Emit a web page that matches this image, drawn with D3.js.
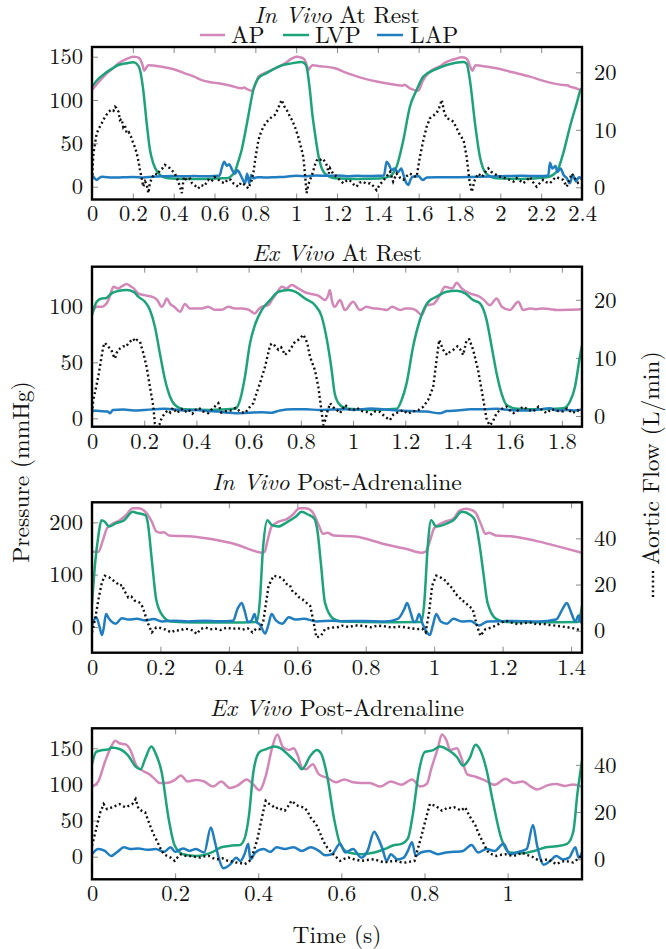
<!DOCTYPE html>
<html><head><meta charset="utf-8">
<script src="https://cdn.jsdelivr.net/npm/d3@7"></script>
<style>
body{margin:0;background:#fff}
svg{display:block}
</style></head>
<body><svg id="chart" width="666" height="949"></svg>
<script>
// ---------- DATA ([time s, value]) ----------
const p1AP=[[0,111.6],[0.03,120],[0.064,128.9],[0.1,136],[0.129,142.3],[0.17,147.5],[0.202,150],[0.22,149.5],[0.235,147.3],[0.248,140],[0.256,133.8],[0.266,137.5],[0.276,140],[0.30,139.8],[0.341,138.5],[0.4,135.5],[0.455,130.8],[0.5,127],[0.537,123],[0.58,120.5],[0.619,119.3],[0.68,116.5],[0.733,113.5],[0.745,114.5],[0.76,112.5],[0.782,110.8],[0.80,118],[0.815,127],[0.85,131.5],[0.88,134.6],[0.945,142.3],[0.98,148],[1.003,150],[1.025,149],[1.04,147],[1.052,140],[1.06,134.6],[1.07,138],[1.08,140],[1.12,139],[1.19,136.6],[1.25,131],[1.329,125],[1.4,121],[1.492,117.3],[1.52,116.5],[1.53,117.5],[1.557,113.5],[1.598,110.8],[1.62,122],[1.655,132.7],[1.7,138.5],[1.737,144],[1.78,147.5],[1.81,149.3],[1.83,148.5],[1.84,146],[1.852,139],[1.864,133.8],[1.872,138],[1.88,140],[1.93,138.6],[1.982,136.6],[2.06,132],[2.145,127],[2.22,121.5],[2.308,117.3],[2.33,117],[2.34,115.5],[2.36,114.5],[2.39,111.6],[2.4,111]];
const p1LVP=[[0,115.4],[0.03,124],[0.064,130.8],[0.1,136.5],[0.129,140.4],[0.17,142.5],[0.202,143.5],[0.218,142],[0.235,134.6],[0.251,111.6],[0.268,73],[0.284,42.3],[0.300,27],[0.325,15.4],[0.35,11],[0.374,9.7],[0.45,9],[0.55,9],[0.62,9.5],[0.668,10],[0.685,13],[0.700,17.3],[0.715,28],[0.733,42.3],[0.75,62],[0.765,80.8],[0.790,111.6],[0.815,125],[0.85,130.5],[0.88,134.6],[0.93,140],[0.978,142.3],[1.026,144],[1.04,142.5],[1.051,138.5],[1.067,111.6],[1.08,82],[1.092,61.6],[1.11,34.6],[1.14,15.4],[1.19,9.7],[1.3,9],[1.41,9.5],[1.44,10.5],[1.468,13.5],[1.492,23.1],[1.525,53.9],[1.557,92.3],[1.59,111.6],[1.623,127],[1.68,135],[1.737,140.4],[1.819,144],[1.835,142],[1.851,123],[1.876,73],[1.9,34.6],[1.93,15.4],[1.98,9.7],[2.1,9],[2.227,10.8],[2.276,17.3],[2.308,38.5],[2.341,69.2],[2.374,96.2],[2.393,111.6],[2.4,114]];
const p1LAP=[[0,13.5],[0.012,10],[0.023,7.7],[0.035,10],[0.05,11.5],[0.1,10.5],[0.15,10.8],[0.2,11.2],[0.25,10.5],[0.3,11.5],[0.35,12],[0.4,12.3],[0.45,12],[0.5,12.3],[0.55,12],[0.6,12.3],[0.625,13],[0.635,21.2],[0.648,28.8],[0.66,24],[0.672,26],[0.685,20],[0.700,15],[0.712,19],[0.72,17],[0.735,10],[0.749,3.9],[0.76,15],[0.77,3.9],[0.78,13.5],[0.79,9.6],[0.81,11],[0.85,10.5],[0.9,11],[0.95,11.5],[1.0,12.5],[1.05,12],[1.1,13],[1.15,12.5],[1.2,13],[1.25,12],[1.3,12.5],[1.35,12.3],[1.4,12.5],[1.43,13],[1.443,28.8],[1.455,25],[1.468,19],[1.48,21],[1.5,17],[1.515,21],[1.525,14],[1.538,5],[1.549,2],[1.56,8],[1.57,11.5],[1.6,12],[1.62,7.7],[1.64,10.5],[1.7,10.8],[1.8,11],[1.9,11.5],[2.0,12],[2.1,12.5],[2.2,12.3],[2.235,13],[2.243,27.7],[2.255,21],[2.27,24],[2.28,17],[2.295,21],[2.31,13.5],[2.325,10],[2.34,3.9],[2.355,13.5],[2.37,6],[2.385,11],[2.4,9.6]];
const p1Flow=[[0,1.3],[0.007,5.9],[0.023,9.4],[0.035,10.3],[0.047,11.1],[0.06,12],[0.08,13.1],[0.095,13.5],[0.105,13.3],[0.113,14],[0.12,13.8],[0.13,13.1],[0.137,11.7],[0.145,11.9],[0.153,10.5],[0.16,10.9],[0.17,9.4],[0.18,9.6],[0.19,8.9],[0.202,7.7],[0.21,7],[0.219,5.9],[0.228,4.5],[0.235,3],[0.245,1.3],[0.251,0.1],[0.26,1],[0.268,0.5],[0.276,-1],[0.284,0.8],[0.296,1.8],[0.308,2.4],[0.32,2.2],[0.333,3],[0.345,3.3],[0.357,3.9],[0.37,3.6],[0.382,3.3],[0.395,2.8],[0.406,2.4],[0.418,1.4],[0.431,0.1],[0.44,-1],[0.45,1.8],[0.465,1.2],[0.48,1.5],[0.49,0.7],[0.505,0.3],[0.52,-0.2],[0.535,0.4],[0.55,0.2],[0.57,1.3],[0.585,1],[0.6,1.8],[0.61,1.5],[0.62,1.3],[0.635,0.9],[0.651,0.7],[0.665,1.4],[0.68,1.3],[0.695,0.6],[0.717,0.1],[0.73,0.8],[0.745,0.5],[0.755,0.2],[0.766,-0.2],[0.78,1],[0.79,2.4],[0.8,5],[0.815,8.2],[0.827,9.5],[0.839,10.5],[0.852,11.2],[0.864,11.7],[0.88,12.2],[0.896,12.6],[0.91,13.6],[0.92,14.5],[0.929,15.2],[0.94,14.2],[0.95,13.6],[0.96,13.1],[0.97,12.2],[0.98,11.7],[0.994,10.5],[1.01,8.8],[1.022,7.2],[1.035,5.3],[1.043,2.4],[1.051,-1],[1.06,0.5],[1.068,1.3],[1.08,2.4],[1.092,3.9],[1.1,4.6],[1.108,5],[1.12,4.8],[1.13,5],[1.14,4.5],[1.149,3.9],[1.16,2.4],[1.166,3.3],[1.18,2.4],[1.2,1.8],[1.215,1.2],[1.231,0.7],[1.245,1.1],[1.26,1.3],[1.278,0.6],[1.296,0.1],[1.31,0.8],[1.325,1],[1.345,0.6],[1.362,0.7],[1.378,0.2],[1.394,-0.5],[1.41,0.5],[1.43,1.3],[1.445,2],[1.46,2.7],[1.475,1],[1.492,2.4],[1.51,1.6],[1.525,1.3],[1.54,1.9],[1.557,2.4],[1.575,2],[1.59,1.8],[1.606,5.3],[1.623,8.2],[1.639,10.5],[1.655,12],[1.67,12.4],[1.688,12.9],[1.70,13.8],[1.713,15.2],[1.725,13.1],[1.737,12],[1.755,11.8],[1.77,11.4],[1.786,10.3],[1.802,9.1],[1.82,8.2],[1.835,5.3],[1.848,1.3],[1.86,-0.8],[1.875,1.3],[1.892,2.4],[1.91,1.8],[1.925,2.6],[1.941,3.3],[1.955,2.7],[1.97,2.4],[1.99,1.9],[2.01,1.8],[2.03,1.5],[2.047,1.3],[2.065,1.0],[2.08,1.6],[2.095,1.2],[2.112,0.7],[2.13,1.2],[2.145,1.8],[2.16,0.9],[2.178,0.1],[2.195,0.8],[2.21,1.3],[2.225,0.9],[2.243,0.7],[2.26,1.4],[2.275,1.8],[2.29,1.5],[2.308,1.3],[2.325,0.1],[2.335,1],[2.35,2.4],[2.365,1.6],[2.38,0.8],[2.4,1.3]];

const p2AP=[[0,93.7],[0.018,99.6],[0.038,99.6],[0.05,101],[0.063,105.6],[0.075,114],[0.082,117.5],[0.1,116],[0.115,118],[0.133,120],[0.147,118],[0.16,116],[0.177,111.6],[0.2,110],[0.229,108.6],[0.25,105.6],[0.267,99.6],[0.278,103],[0.286,107],[0.3,102],[0.315,99.6],[0.337,95.2],[0.356,102],[0.375,98],[0.394,98],[0.42,98],[0.445,99.6],[0.47,97],[0.497,97],[0.522,99.6],[0.548,98],[0.573,98],[0.6,97],[0.624,93.7],[0.64,98],[0.65,99.6],[0.675,101],[0.69,106],[0.707,111.6],[0.727,117.5],[0.745,116],[0.765,119],[0.79,116],[0.816,112.6],[0.84,111],[0.867,109.6],[0.892,105.6],[0.905,110],[0.911,114.6],[0.92,104],[0.93,99.6],[0.95,105.6],[0.969,96.7],[1.0,104],[1.026,96.7],[1.052,99.6],[1.07,98.5],[1.09,98],[1.11,97.5],[1.129,96.7],[1.15,99.6],[1.18,96.7],[1.2,98],[1.218,98],[1.24,96.7],[1.263,92.2],[1.282,101],[1.307,102],[1.333,110],[1.352,117.5],[1.38,116],[1.397,121],[1.416,116],[1.448,111.6],[1.485,108.6],[1.5,106],[1.524,101],[1.55,107],[1.57,99.6],[1.6,96.7],[1.633,104],[1.652,96.7],[1.677,98],[1.7,97.5],[1.728,98],[1.755,97.5],[1.78,96.7],[1.83,97],[1.877,97.5]];
const p2LVP=[[0,92.2],[0.018,104],[0.037,107],[0.055,107.5],[0.075,111.6],[0.1,113.7],[0.133,114.6],[0.16,113],[0.177,108.6],[0.203,104],[0.222,96.7],[0.241,81.8],[0.26,58],[0.28,34.2],[0.299,19.3],[0.318,11.9],[0.356,8],[0.45,7.5],[0.548,8.5],[0.567,16.3],[0.586,37.2],[0.605,66.7],[0.624,83.3],[0.65,96.7],[0.682,105.6],[0.714,113],[0.752,114.6],[0.78,113],[0.816,107],[0.854,101],[0.88,90.7],[0.9,69.9],[0.918,43.1],[0.93,22],[0.95,11.9],[0.98,8.5],[1.08,7.5],[1.167,8.5],[1.186,16.3],[1.205,31.2],[1.23,64],[1.256,87.8],[1.288,104],[1.32,108.6],[1.358,113],[1.397,114],[1.43,111.6],[1.46,105.6],[1.486,102.6],[1.51,89.3],[1.531,64],[1.55,40],[1.569,22],[1.588,11.9],[1.63,8.5],[1.72,8],[1.805,9],[1.831,15],[1.85,28],[1.869,55],[1.877,65]];
const p2LAP=[[0,7],[0.03,6.5],[0.06,6],[0.069,4.5],[0.08,7.5],[0.12,7.8],[0.16,7],[0.2,7.5],[0.24,8],[0.28,8.5],[0.32,7.8],[0.36,7],[0.4,7.5],[0.44,6.5],[0.484,6],[0.52,5],[0.55,4.5],[0.6,5],[0.65,5.5],[0.688,5],[0.72,7],[0.77,8],[0.82,8],[0.87,7.5],[0.92,7.8],[0.97,8],[1.0,7.5],[1.07,8.8],[1.12,7.8],[1.17,7],[1.22,6.5],[1.28,6],[1.333,4.5],[1.36,6.5],[1.4,7],[1.45,8],[1.5,8],[1.55,8.5],[1.6,7.5],[1.65,7],[1.7,7.5],[1.754,9],[1.78,7],[1.82,7.5],[1.85,7],[1.877,8]];
const p2Flow=[[0,0.5],[0.005,2.8],[0.015,4.8],[0.024,6.8],[0.034,9.5],[0.043,11.9],[0.05,12.6],[0.056,12.2],[0.065,11.8],[0.074,11.4],[0.082,10.4],[0.088,9.9],[0.094,10.8],[0.1,11.4],[0.11,11.7],[0.12,12],[0.13,11.9],[0.139,12.5],[0.148,12.9],[0.158,13.3],[0.165,12.8],[0.172,13.1],[0.184,12.8],[0.19,11.8],[0.197,10.8],[0.209,8.5],[0.222,5],[0.235,1.6],[0.241,-1.3],[0.25,-2],[0.258,-1.5],[0.267,-0.3],[0.28,0.5],[0.29,1],[0.3,0.6],[0.31,1.4],[0.325,0.5],[0.343,1.2],[0.355,0.7],[0.37,1.1],[0.385,0.4],[0.394,1],[0.41,1.4],[0.425,0.8],[0.445,0.5],[0.46,1.2],[0.47,1.6],[0.484,2.2],[0.495,0.6],[0.51,0.8],[0.535,1],[0.55,1.4],[0.57,0.7],[0.586,0.5],[0.595,1],[0.605,1.6],[0.618,2.2],[0.63,3.9],[0.643,5.6],[0.663,8.5],[0.675,10.8],[0.682,12.2],[0.69,12.5],[0.7,12.1],[0.714,11.4],[0.725,11.8],[0.732,11.2],[0.739,10.5],[0.75,11],[0.76,11.4],[0.77,12.3],[0.778,12.8],[0.79,13.1],[0.8,13.5],[0.809,14],[0.818,13.3],[0.825,12.5],[0.835,10.2],[0.854,7.9],[0.867,5],[0.877,1.6],[0.886,-1.6],[0.895,-0.5],[0.9,0.5],[0.912,2.2],[0.924,1.5],[0.935,1.2],[0.95,0.5],[0.97,1.9],[0.985,1.2],[1.0,1.0],[1.015,1.4],[1.03,0.9],[1.052,0.7],[1.07,0.3],[1.085,0.8],[1.103,0.7],[1.122,-0.1],[1.141,-0.7],[1.155,0.3],[1.17,0.6],[1.192,1],[1.21,0.4],[1.23,0.8],[1.25,1],[1.269,1.6],[1.288,2.8],[1.307,5],[1.32,9.7],[1.33,13.1],[1.345,11.4],[1.36,10.5],[1.37,11],[1.384,11.4],[1.4,12],[1.41,11.5],[1.422,10.5],[1.435,13.1],[1.445,13.2],[1.46,11.4],[1.479,7.9],[1.499,2.8],[1.512,-0.7],[1.524,-1.6],[1.535,-1],[1.55,0.5],[1.568,1.2],[1.588,1.6],[1.6,1],[1.615,0.5],[1.632,1],[1.652,1.6],[1.67,1.1],[1.69,0.8],[1.71,1.6],[1.725,1],[1.741,0.5],[1.76,1.2],[1.78,0.9],[1.805,0.8],[1.82,1.3],[1.84,0.5],[1.86,1],[1.877,0.5]];

const p3AP=[[0,144],[0.019,144],[0.031,164],[0.044,189],[0.0625,198],[0.081,204],[0.1,214],[0.119,227],[0.1375,227],[0.156,220],[0.175,201],[0.1875,183],[0.2,180],[0.21,181],[0.225,175],[0.294,173],[0.356,167],[0.419,158],[0.481,144],[0.496,142],[0.505,144],[0.5125,164],[0.525,192],[0.544,201],[0.569,206],[0.5875,215],[0.606,227],[0.625,227],[0.644,220],[0.6625,195],[0.675,178],[0.6875,180],[0.706,175],[0.769,173],[0.856,158],[0.919,149],[0.9625,142],[0.975,144],[0.9875,164],[1.0,189],[1.03,201],[1.056,207],[1.075,223],[1.094,226],[1.119,220],[1.1375,195],[1.15,178],[1.16,180],[1.18,175],[1.23,173],[1.294,165],[1.356,155],[1.432,142]];
const p3LVP=[[0,43],[0.009,121],[0.019,176],[0.0275,204],[0.0375,201],[0.05,192],[0.069,198],[0.094,204],[0.119,220],[0.131,218],[0.156,214],[0.1625,201],[0.175,127],[0.1875,53],[0.206,22],[0.231,10.5],[0.3,8.5],[0.4,8.5],[0.481,9.5],[0.49,46],[0.5,152],[0.5125,204],[0.525,195],[0.544,192],[0.569,200],[0.594,210],[0.6125,220],[0.631,215],[0.65,207],[0.659,183],[0.669,121],[0.681,46],[0.706,15.5],[0.731,10.5],[0.85,9],[0.9625,9.5],[0.971,46],[0.981,152],[0.991,204],[1.006,192],[1.031,196],[1.056,204],[1.081,220],[1.106,214],[1.119,204],[1.131,164],[1.144,102],[1.156,46],[1.181,15.5],[1.2125,9.3],[1.3,9],[1.42,9.5],[1.428,25],[1.432,40]];
const p3LAP=[[0,3],[0.0125,18.6],[0.021,3],[0.029,-15.5],[0.034,-3],[0.041,24.8],[0.05,15.5],[0.069,6.2],[0.0875,16.7],[0.106,14.2],[0.131,15.5],[0.156,12.4],[0.18,15],[0.206,10.5],[0.24,12],[0.281,10.5],[0.331,12],[0.37,11],[0.4125,12],[0.425,34],[0.4375,46],[0.446,31],[0.456,9.3],[0.466,12],[0.475,24.8],[0.482,9],[0.491,4.3],[0.496,-2],[0.506,-12.4],[0.515,3],[0.525,24.8],[0.5375,12.4],[0.556,6.2],[0.575,18.6],[0.594,14.2],[0.619,15.5],[0.656,10.5],[0.7,12],[0.731,11],[0.794,11.5],[0.856,10.5],[0.894,15.5],[0.9125,34],[0.921,46],[0.931,28],[0.941,9.3],[0.948,12],[0.956,24.8],[0.966,6.2],[0.975,-6.2],[0.9875,-15.5],[0.996,3],[1.006,24.8],[1.019,10.5],[1.0375,6.2],[1.056,15.5],[1.081,10.5],[1.106,11.5],[1.131,3],[1.156,10.5],[1.23,11.5],[1.306,10.5],[1.356,14.2],[1.375,34],[1.3875,46],[1.4,28],[1.4125,10.5],[1.422,21.7],[1.428,9],[1.432,15]];
const p3Flow=[[0,-0.7],[0.009,5],[0.019,13.7],[0.029,21],[0.0375,23.8],[0.05,23.1],[0.0625,21.7],[0.07,21],[0.081,19.5],[0.088,19.9],[0.094,17.3],[0.1,16],[0.106,14.4],[0.115,14.8],[0.125,13],[0.1375,12.3],[0.144,11.5],[0.15,9.4],[0.1625,3.6],[0.175,-0.7],[0.1875,1.4],[0.2,1.2],[0.215,0.5],[0.231,-0.7],[0.245,0.3],[0.256,0],[0.27,0.9],[0.281,0.7],[0.295,0.1],[0.306,-1.4],[0.318,0.8],[0.331,1.4],[0.345,0.6],[0.36,0.9],[0.375,0.3],[0.394,1.4],[0.41,0.8],[0.425,1.2],[0.44,0.5],[0.455,1.1],[0.469,-0.7],[0.48,0.9],[0.49,0.7],[0.5,3.6],[0.506,9.4],[0.516,19.5],[0.531,23.8],[0.54,23.5],[0.55,23.1],[0.56,22],[0.569,20.2],[0.578,19.8],[0.5875,16.6],[0.596,16],[0.606,14.4],[0.615,13.6],[0.625,12.3],[0.6375,10.8],[0.646,5],[0.656,-2.9],[0.669,-2.2],[0.681,0.7],[0.694,1.2],[0.706,1.4],[0.72,1.6],[0.731,2.2],[0.75,1.6],[0.77,2.3],[0.794,2.1],[0.815,1.5],[0.835,2.2],[0.856,1.9],[0.875,1.4],[0.9,1.8],[0.919,1.4],[0.935,1],[0.95,0.7],[0.965,0.9],[0.975,-0.7],[0.985,7.9],[0.994,19.5],[1.006,23.8],[1.015,23.5],[1.025,22.4],[1.035,21.5],[1.044,19.5],[1.053,18.5],[1.0625,15.9],[1.072,14.9],[1.081,13],[1.09,12.5],[1.1,10.8],[1.1125,9.4],[1.125,2.2],[1.135,-2.2],[1.15,0.7],[1.165,1.3],[1.18,2.2],[1.195,3.5],[1.21,4.3],[1.227,3.5],[1.244,2.9],[1.26,3.3],[1.281,3.6],[1.3,2.8],[1.319,3],[1.338,2.5],[1.356,2.2],[1.375,1.8],[1.394,1.4],[1.41,1],[1.432,0]];

const p4AP=[[0,97],[0.015,104],[0.031,131],[0.046,152],[0.056,160.6],[0.066,157],[0.082,155],[0.092,148],[0.107,126],[0.122,119],[0.138,114],[0.15,108],[0.163,102],[0.179,102],[0.199,106],[0.214,112.5],[0.23,104],[0.25,106],[0.27,104],[0.291,97],[0.311,104],[0.332,95],[0.352,99],[0.372,107],[0.388,100],[0.403,92],[0.418,111.5],[0.434,152],[0.446,169],[0.459,152],[0.474,147.6],[0.485,150],[0.495,140],[0.505,123.6],[0.515,121],[0.531,128],[0.546,114],[0.566,109],[0.587,103],[0.607,107],[0.628,103],[0.648,102],[0.668,102],[0.694,97],[0.719,104],[0.745,99.5],[0.77,107],[0.79,97],[0.806,101],[0.816,121],[0.832,150],[0.842,169],[0.852,162],[0.862,147.6],[0.878,150],[0.888,138],[0.903,114],[0.923,110.6],[0.944,106],[0.969,99.5],[0.995,107.7],[1.015,102],[1.036,104],[1.056,97],[1.071,93],[1.097,99],[1.117,100.5],[1.138,98],[1.158,100],[1.179,97]];
const p4LVP=[[0,128],[0.01,145],[0.026,147.6],[0.041,148.6],[0.046,151],[0.066,149],[0.087,140],[0.107,123.6],[0.117,121],[0.128,135.6],[0.143,152.4],[0.153,143],[0.168,116],[0.184,54],[0.199,15.4],[0.219,3.4],[0.25,1],[0.291,6.7],[0.311,13],[0.337,15.4],[0.355,16],[0.367,25],[0.378,58.6],[0.388,116],[0.403,145],[0.418,148.6],[0.439,152.4],[0.454,150],[0.474,140],[0.495,128],[0.505,121],[0.526,140],[0.541,147.6],[0.551,143],[0.566,111.5],[0.582,54],[0.597,17.8],[0.617,5.8],[0.648,3.4],[0.679,5.8],[0.704,10.6],[0.724,15.4],[0.745,17.8],[0.76,25],[0.772,58.6],[0.786,116],[0.801,145],[0.821,147.6],[0.837,152.4],[0.857,147.6],[0.878,138],[0.893,126],[0.908,135.6],[0.923,154.8],[0.934,147.6],[0.949,121],[0.964,78],[0.985,25],[1.005,5.8],[1.036,4.8],[1.066,8.2],[1.092,13],[1.117,14.4],[1.143,17.8],[1.158,34.6],[1.168,87.5],[1.179,133]];
const p4LAP=[[0,3.4],[0.015,10.6],[0.031,8],[0.046,1],[0.061,6.7],[0.077,13],[0.092,10.6],[0.112,11.5],[0.133,9.5],[0.153,10.6],[0.173,6.7],[0.189,13],[0.2,6.7],[0.219,11.5],[0.235,8],[0.25,10.6],[0.27,5.8],[0.286,40.4],[0.296,20],[0.306,-3.8],[0.316,-16],[0.332,-11],[0.347,-1.4],[0.357,-6],[0.367,3.4],[0.376,17.8],[0.381,-3.8],[0.393,5.8],[0.413,10.6],[0.429,6.7],[0.444,13],[0.464,10.6],[0.485,13],[0.505,8],[0.526,13],[0.546,8],[0.561,1.9],[0.577,3.4],[0.597,17.8],[0.609,5.8],[0.628,10.6],[0.648,-1.4],[0.663,8],[0.679,34.6],[0.689,25],[0.699,10.6],[0.709,-6],[0.719,3.4],[0.735,-3.8],[0.75,-1.4],[0.76,8],[0.77,20],[0.779,1],[0.791,5.8],[0.811,8],[0.832,3.4],[0.852,5.8],[0.872,6.7],[0.893,8],[0.913,16.3],[0.929,5.8],[0.949,10.6],[0.969,8],[0.99,17.8],[1.005,3.4],[1.026,6.7],[1.046,10.6],[1.061,44],[1.071,15.4],[1.087,-11],[1.102,-6],[1.117,1],[1.133,-3.8],[1.148,-1.4],[1.163,13],[1.171,-1.4],[1.179,5.8]];
const p4Flow=[[0,5.7],[0.01,12.8],[0.02,19.9],[0.028,23.4],[0.036,21.3],[0.044,21.8],[0.051,22],[0.058,22.8],[0.066,23.4],[0.074,22.5],[0.082,22],[0.09,22.8],[0.097,23.4],[0.105,25.5],[0.112,21.3],[0.12,20.5],[0.128,19.9],[0.135,16.5],[0.143,12.8],[0.15,10],[0.158,7.1],[0.165,4.5],[0.173,2.1],[0.181,1.4],[0.189,0.7],[0.199,-0.7],[0.206,0.8],[0.214,2.1],[0.225,1.5],[0.235,1.4],[0.248,1],[0.26,0.7],[0.27,1.2],[0.281,1.4],[0.291,0.5],[0.301,0],[0.314,0.4],[0.327,-0.7],[0.337,-0.9],[0.347,-1.4],[0.357,-1.6],[0.367,-2.1],[0.376,-1.2],[0.383,0],[0.39,4],[0.398,8.5],[0.408,17],[0.418,24.8],[0.426,23.5],[0.434,22.7],[0.441,21.5],[0.449,22],[0.457,21],[0.464,20.6],[0.472,22.5],[0.48,24.8],[0.488,23.6],[0.495,22.7],[0.503,22.2],[0.51,22],[0.518,20.5],[0.526,17.7],[0.533,16.2],[0.541,14.2],[0.549,11],[0.556,7.8],[0.566,5],[0.577,2.8],[0.587,1],[0.597,-0.7],[0.607,0.2],[0.617,0.7],[0.63,0],[0.648,-0.7],[0.663,-0.3],[0.679,0],[0.692,-0.8],[0.704,-1.4],[0.717,-0.9],[0.73,-0.7],[0.742,-1.2],[0.755,-1.4],[0.766,-1],[0.776,-0.7],[0.78,2],[0.786,5.7],[0.793,10],[0.801,15.6],[0.813,23.4],[0.82,23],[0.827,22.7],[0.835,21.5],[0.842,20.6],[0.85,21.3],[0.857,22],[0.865,21.6],[0.872,22],[0.88,21.4],[0.888,20.6],[0.898,22],[0.908,18.4],[0.915,16.5],[0.923,14.2],[0.93,11],[0.939,7.8],[0.947,5],[0.954,2.8],[0.964,2],[0.974,1.4],[0.985,1.9],[0.995,2.1],[1.005,1.7],[1.015,1.4],[1.025,2],[1.036,2.8],[1.046,1.8],[1.056,1.4],[1.066,0.4],[1.077,-0.7],[1.087,-0.4],[1.097,0],[1.107,-1],[1.117,-2.1],[1.128,-1.2],[1.138,-0.7],[1.148,-1],[1.158,-1.4],[1.173,0.7],[1.179,1.4]];

// tick values
const p1XTicks=[0,0.2,0.4,0.6,0.8,1,1.2,1.4,1.6,1.8,2,2.2,2.4], p1PTicks=[0,50,100,150], p1FTicks=[0,10,20];
const p2XTicks=[0,0.2,0.4,0.6,0.8,1,1.2,1.4,1.6,1.8], p2PTicks=[0,50,100], p2FTicks=[0,10,20];
const p3XTicks=[0,0.2,0.4,0.6,0.8,1,1.2,1.4], p3PTicks=[0,100,200], p3FTicks=[0,20,40];
const p4XTicks=[0,0.2,0.4,0.6,0.8,1], p4PTicks=[0,50,100,150], p4FTicks=[0,20,40];
// axis ranges (data units)
const p1XDomain=[0,2.4], p1PDomain=[-14.8,161.2], p1FDomain=[-2.12,24.4];
const p2XDomain=[0,1.877], p2PDomain=[-7.5,135.4], p2FDomain=[-1.84,25.7];
const p3XDomain=[0,1.432], p3PDomain=[-49.2,238.3], p3FDomain=[-9.5,55.6];
const p4XDomain=[0,1.179], p4PDomain=[-31.3,177.7], p4FDomain=[-8.5,55.5];
const titleItalic=["In Vivo","Ex Vivo","In Vivo","Ex Vivo"];
const titleRest=[" At Rest"," At Rest"," Post-Adrenaline"," Post-Adrenaline"];
const seriesNames=["AP","LVP","LAP"];

// ---------- STYLE / LAYOUT ----------
const COL={AP:"#d387b8",LVP:"#1ca37a",LAP:"#1f7dc0"};
const FONT="'Latin Modern Roman','Liberation Serif',serif";
const L=92,R=582;
const tops=[47,266.7,502.3,728.3], bottoms=[199.5,426.7,652.7,879.3];
const titleBase=[23,261,490,716];
const FS=23.5, TFS=22.5;

const svg=d3.select("#chart").attr("font-family",FONT).attr("font-size",FS);
const panels=[
 {xd:p1XDomain,pd:p1PDomain,fd:p1FDomain,xt:p1XTicks,pt:p1PTicks,ft:p1FTicks,AP:p1AP,LVP:p1LVP,LAP:p1LAP,Flow:p1Flow},
 {xd:p2XDomain,pd:p2PDomain,fd:p2FDomain,xt:p2XTicks,pt:p2PTicks,ft:p2FTicks,AP:p2AP,LVP:p2LVP,LAP:p2LAP,Flow:p2Flow},
 {xd:p3XDomain,pd:p3PDomain,fd:p3FDomain,xt:p3XTicks,pt:p3PTicks,ft:p3FTicks,AP:p3AP,LVP:p3LVP,LAP:p3LAP,Flow:p3Flow},
 {xd:p4XDomain,pd:p4PDomain,fd:p4FDomain,xt:p4XTicks,pt:p4PTicks,ft:p4FTicks,AP:p4AP,LVP:p4LVP,LAP:p4LAP,Flow:p4Flow}
];

function txt(sel,fs){ return sel.attr("font-family",FONT).attr("font-size",fs||FS).attr("fill","#111"); }
function styleAxis(g){
  g.attr("font-family",FONT).attr("font-size",TFS);
  g.selectAll(".domain").remove();
  g.selectAll(".tick line").attr("stroke","#8a8a8a").attr("stroke-width",1);
  g.selectAll(".tick text").attr("font-family",FONT).attr("font-size",TFS).attr("fill","#111");
}

panels.forEach((p,i)=>{
  const top=tops[i], bot=bottoms[i];
  const x=d3.scaleLinear().domain(p.xd).range([L,R]);
  const yP=d3.scaleLinear().domain(p.pd).range([bot,top]);
  const yF=d3.scaleLinear().domain(p.fd).range([bot,top]);
  const g=svg.append("g");

  const t=txt(g.append("text")).attr("x",(L+R)/2).attr("y",titleBase[i]).attr("text-anchor","middle");
  t.append("tspan").attr("font-style","italic").text(titleItalic[i]);
  t.append("tspan").text(titleRest[i]);

  g.append("g").attr("transform",`translate(0,${bot})`)
    .call(d3.axisBottom(x).tickValues(p.xt).tickSize(-6).tickPadding(6).tickFormat(d=>String(d))).call(styleAxis);
  g.append("g").attr("transform",`translate(0,${top})`)
    .call(d3.axisTop(x).tickValues(p.xt).tickSize(-6).tickFormat("")).call(styleAxis);
  g.append("g").attr("transform",`translate(${L},0)`)
    .call(d3.axisLeft(yP).tickValues(p.pt).tickSize(-6).tickPadding(9).tickFormat(d=>String(d))).call(styleAxis);
  g.append("g").attr("transform",`translate(${R},0)`)
    .call(d3.axisRight(yF).tickValues(p.ft).tickSize(-6).tickPadding(12).tickFormat(d=>String(d))).call(styleAxis);

  const cid="clip"+i;
  svg.append("clipPath").attr("id",cid).append("rect").attr("x",L).attr("y",top).attr("width",R-L).attr("height",bot-top);
  const plot=g.append("g").attr("clip-path",`url(#${cid})`);
  const lineP=d3.line().x(d=>x(d[0])).y(d=>yP(d[1])).curve(d3.curveMonotoneX);
  const lineF=d3.line().x(d=>x(d[0])).y(d=>yF(d[1]));
  seriesNames.forEach(s=>{
    plot.append("path").datum(p[s]).attr("d",lineP).attr("fill","none")
      .attr("stroke",COL[s]).attr("stroke-width",2.5).attr("stroke-linejoin","round");
  });
  plot.append("path").datum(p.Flow).attr("d",lineF).attr("fill","none")
    .attr("stroke","#111").attr("stroke-width",2.4).attr("stroke-dasharray","2,2.8");

  g.append("rect").attr("x",L).attr("y",top).attr("width",R-L).attr("height",bot-top)
    .attr("fill","none").attr("stroke","#000").attr("stroke-width",2.4);
});

// legend
const legendX=[[200,225,231],[283,309,315],[377,403,410]];
seriesNames.forEach((s,k)=>{
  const [a,b,tx]=legendX[k];
  svg.append("line").attr("x1",a).attr("x2",b).attr("y1",35).attr("y2",35).attr("stroke",COL[s]).attr("stroke-width",2.5);
  txt(svg.append("text")).attr("x",tx).attr("y",42.5).text(s);
});

// axis titles
txt(svg.append("text")).attr("transform","translate(29,472) rotate(-90)").attr("text-anchor","middle").text("Pressure (mmHg)");
const af=svg.append("g").attr("transform","translate(659,597) rotate(-90)");
af.append("line").attr("x1",0).attr("x2",26).attr("y1",-6).attr("y2",-6).attr("stroke","#111").attr("stroke-width",2.4).attr("stroke-dasharray","2,2.8");
txt(af.append("text")).attr("x",32).attr("y",0).text("Aortic Flow (L/min)");
txt(svg.append("text")).attr("x",(L+R)/2).attr("y",943).attr("text-anchor","middle").text("Time (s)");
</script></body></html>
